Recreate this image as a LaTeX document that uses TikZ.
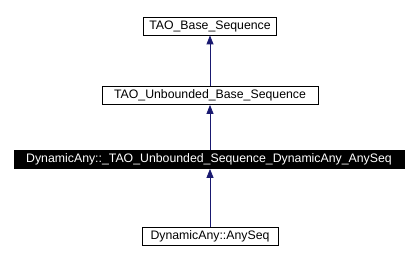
\documentclass[tikz,border=0pt]{standalone}
\usepackage{fontspec}
\setmainfont{Liberation Sans}
\usetikzlibrary{arrows.meta}
\definecolor{edgeblue}{HTML}{191970}
\begin{document}
\begin{tikzpicture}[x=1pt,y=1pt,
  classbox/.style={draw=black, fill=white, line width=0.8pt, inner sep=0pt,
    minimum height=18pt, font=\fontsize{12.3}{14}\selectfont, text=black, anchor=center},
  currentbox/.style={classbox, fill=black, text=white},
  inherit/.style={draw=edgeblue, line width=0.8pt,
    -{Triangle[length=9pt,width=7pt]}}]
  \useasboundingbox (0,0) rectangle (420,257);
  % class hierarchy, base class at the top
  \node[classbox, minimum width=133pt] (base) at (210,231) {TAO\_Base\_Sequence};
  \node[classbox, minimum width=216pt] (ubase) at (210,161.5) {TAO\_Unbounded\_Base\_Sequence};
  \node[currentbox, minimum width=390pt] (useq) at (209,97.5) {DynamicAny::\_TAO\_Unbounded\_Sequence\_DynamicAny\_AnySeq};
  \node[classbox, minimum width=136pt] (anyseq) at (210,21) {DynamicAny::AnySeq};
  % inheritance arrows point from derived class to base class
  \draw[inherit] (ubase.north) -- (base.south);
  \draw[inherit] (useq.north -| ubase.north) -- (ubase.south);
  \draw[inherit] (anyseq.north) -- (useq.south -| anyseq.north);
\end{tikzpicture}
\end{document}
